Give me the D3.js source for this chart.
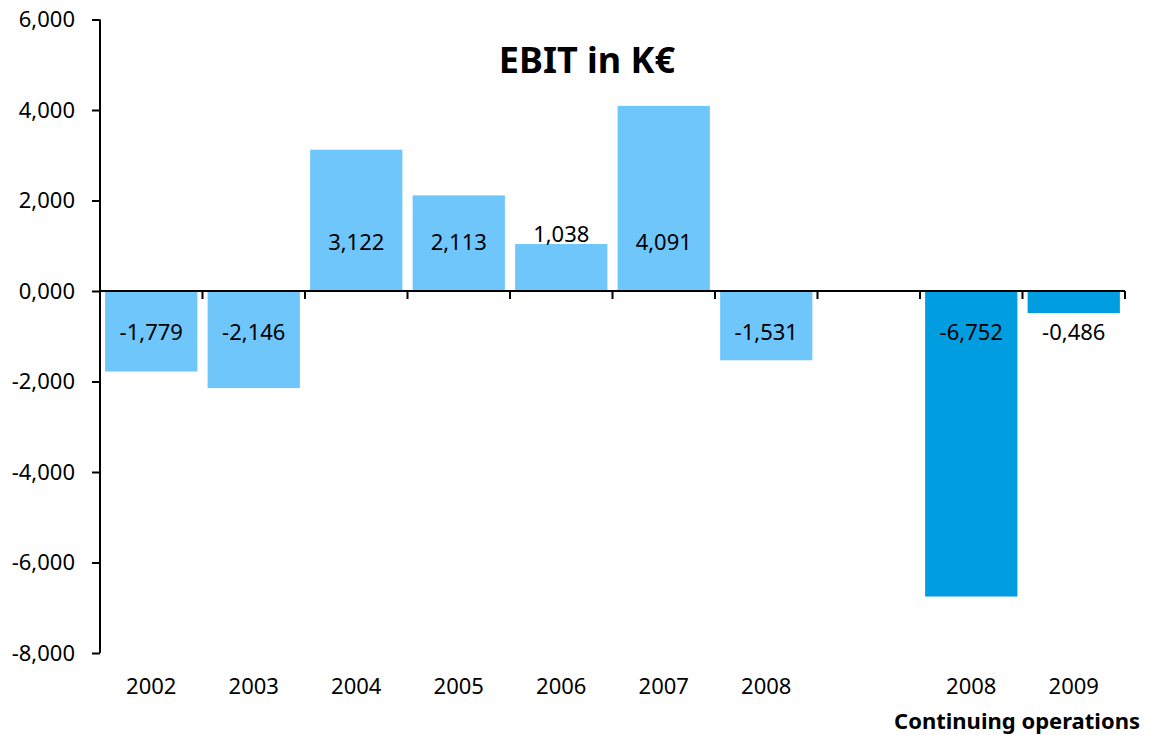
<!DOCTYPE html>
<html>
<head>
<meta charset="utf-8">
<script src="https://cdn.jsdelivr.net/npm/d3@7"></script>
<style>
  body { margin: 0; background: #fff; }
  text { font-family: "Noto Sans", "Open Sans", sans-serif; }
</style>
</head>
<body>
<div class="canvas"></div>
<script>
var width = 1149,
	height = 735;

// data
var slots = ["2002", "2003", "2004", "2005", "2006", "2007", "2008", "gap", "2008c", "2009c"];
var years = ["2002", "2003", "2004", "2005", "2006", "2007", "2008", "", "2008", "2009"];
var values = [-1779, -2146, 3122, 2113, 1038, 4091, -1531, null, -6752, -486];
var continuing = [false, false, false, false, false, false, false, false, true, true];
var yTicks = [-8000, -6000, -4000, -2000, 0, 2000, 4000, 6000];

var canvas = d3.select(".canvas")
	.append("svg")
	.attr("width", width)
	.attr("height", height);

var x = d3.scaleBand()
	.domain(slots)
	.range([100, 1125])
	.paddingInner(0.1)
	.paddingOuter(0.05);

var y = d3.scaleLinear()
	.domain([-8000, 6000])
	.range([653, 19.5]);

// 1234 -> "1,234", 486 -> "0,486"
function fmt(v) {
	var a = Math.abs(v);
	return (v < 0 ? "-" : "") + Math.floor(a / 1000) + "," + d3.format("03d")(a % 1000);
}

var bars = slots.map(function(s, i) {
	return {slot: s, year: years[i], value: values[i], cont: continuing[i]};
});

// bars
canvas.append("g").selectAll("rect")
	.data(bars.filter(function(d) { return d.value !== null; }))
	.enter().append("rect")
	.attr("x", function(d) { return x(d.slot); })
	.attr("width", x.bandwidth())
	.attr("y", function(d) { return y(Math.max(0, d.value)); })
	.attr("height", function(d) { return Math.abs(y(d.value) - y(0)); })
	.attr("fill", function(d) { return d.cont ? "#009ee0" : "#6ec6fb"; });

// value labels
canvas.append("g").selectAll("text")
	.data(bars.filter(function(d) { return d.value !== null; }))
	.enter().append("text")
	.attr("x", function(d) { return x(d.slot) + x.bandwidth() / 2; })
	.attr("y", function(d) {
		var h = Math.abs(y(d.value) - y(0));
		if (d.value > 0) return h < 60 ? y(d.value) - 10 : y(0) - 49;
		return y(0) + 41;
	})
	.attr("dy", "0.35em")
	.attr("text-anchor", "middle")
	.attr("font-size", 22)
	.attr("fill", "#000")
	.text(function(d) { return fmt(d.value); });

// y axis
var yAxis = canvas.append("g")
	.attr("transform", "translate(100,0)")
	.call(d3.axisLeft(y).tickValues(yTicks).tickFormat(fmt).tickSize(8).tickPadding(17));
yAxis.select(".domain").attr("stroke-width", 2).attr("d", "M0," + y(6000) + "V" + y(-8000));
yAxis.selectAll(".tick line").attr("stroke-width", 2);
yAxis.selectAll(".tick text").attr("font-size", 22).attr("font-family", "Noto Sans, sans-serif").attr("fill", "#000");

// zero line with slot boundary ticks
var zero = canvas.append("g");
zero.append("line")
	.attr("x1", 100).attr("x2", 1125)
	.attr("y1", y(0)).attr("y2", y(0))
	.attr("stroke", "#000").attr("stroke-width", 2);
var step = x.step();
zero.selectAll(".xt")
	.data(d3.range(1, slots.length + 1))
	.enter().append("line")
	.attr("x1", function(i) { return 100 + i * step; })
	.attr("x2", function(i) { return 100 + i * step; })
	.attr("y1", y(0)).attr("y2", y(0) + 8)
	.attr("stroke", "#000").attr("stroke-width", 2);

// year labels
canvas.append("g").selectAll("text")
	.data(bars)
	.enter().append("text")
	.attr("x", function(d) { return x(d.slot) + x.bandwidth() / 2; })
	.attr("y", 686)
	.attr("dy", "0.35em")
	.attr("text-anchor", "middle")
	.attr("font-size", 22)
	.text(function(d) { return d.year; });

canvas.append("text")
	.attr("x", 1140)
	.attr("y", 729)
	.attr("text-anchor", "end")
	.attr("font-size", 22)
	.attr("font-weight", "bold")
	.text("Continuing operations");

// title
canvas.append("text")
	.attr("x", 587)
	.attr("y", 73)
	.attr("text-anchor", "middle")
	.attr("font-size", 36)
	.attr("font-weight", "bold")
	.text("EBIT in K€");
</script>
</body>
</html>
